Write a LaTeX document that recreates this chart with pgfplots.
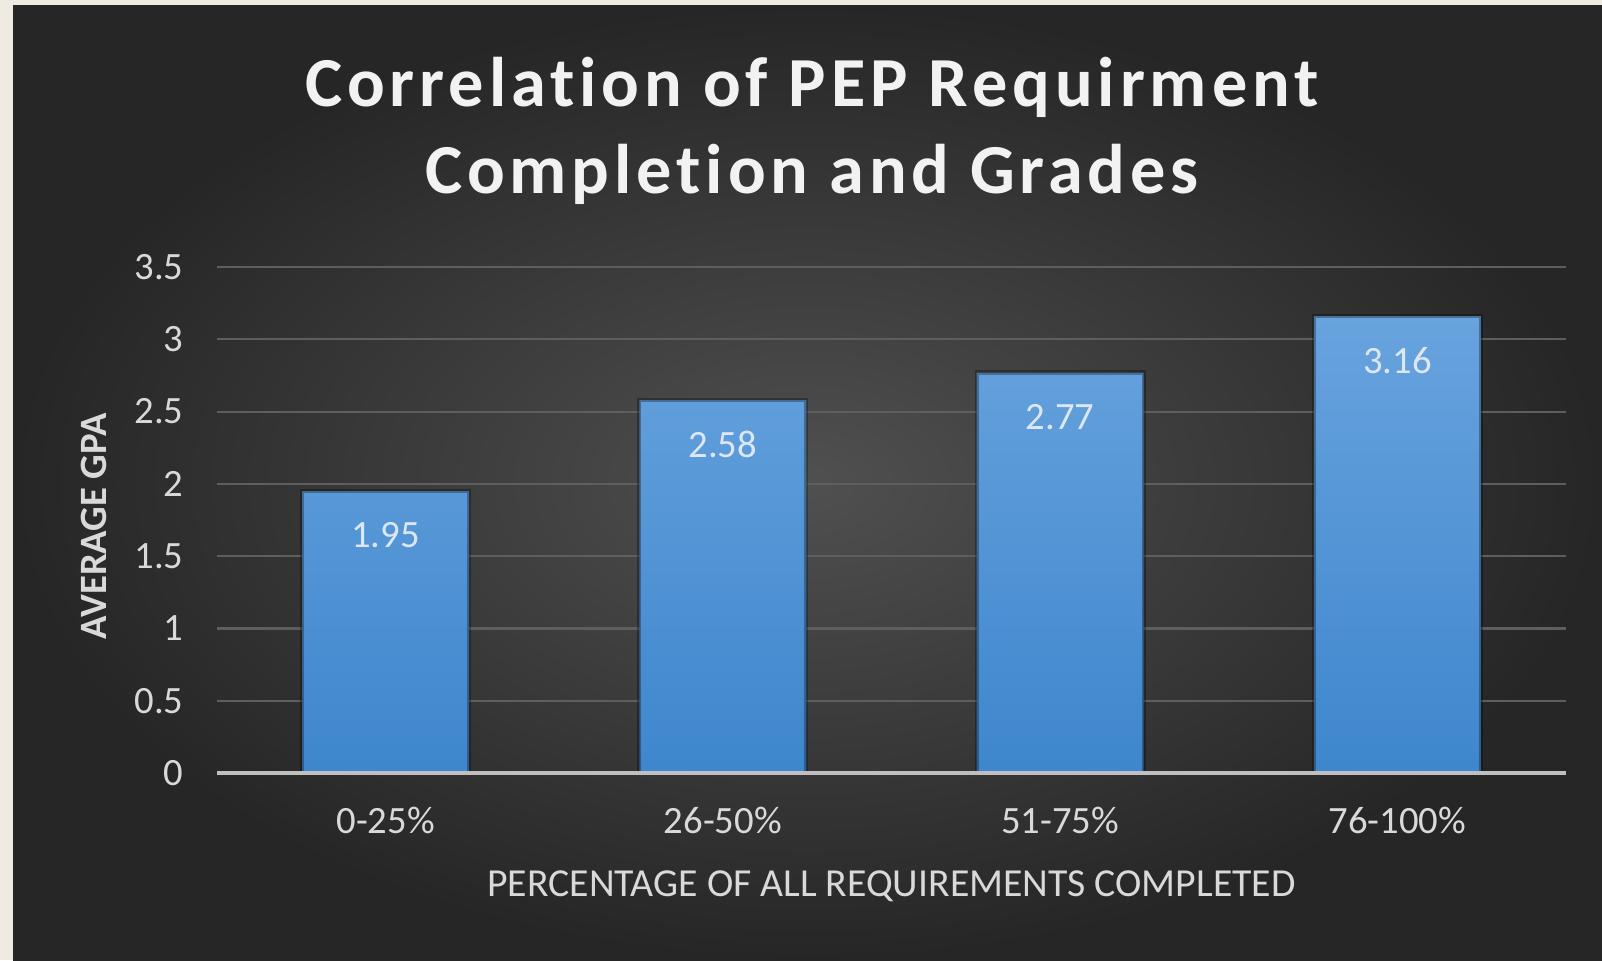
\documentclass[border=0pt]{standalone}
\usepackage{fontspec}
\setmainfont{Carlito}[Ligatures=NoCommon]
\newfontfamily\titlefont[LetterSpace=7,Ligatures=NoCommon]{Carlito}
\usepackage{pgfplots}
\pgfplotsset{compat=1.18}
\definecolor{cream}{HTML}{EFEBE3}
\definecolor{bgin}{HTML}{505050}
\definecolor{bgout}{HTML}{262626}
\definecolor{gridc}{HTML}{5E5E5E}
\definecolor{axisc}{HTML}{BFBFBF}
\definecolor{txt}{HTML}{D9D9D9}
\definecolor{titlec}{HTML}{F2F2F2}
\definecolor{bartop}{HTML}{68A3DE}
\definecolor{barbot}{HTML}{3E86CD}
\definecolor{lblc}{HTML}{DCE7F3}
\begin{document}
\begin{tikzpicture}
\fill[cream] (0,0) rectangle (160.2mm,96mm);
\shade[inner color=bgin, outer color=bgout] (1.3mm,0) rectangle (160.2mm,95.5mm);
\begin{axis}[
  at={(21.7mm,18.7mm)}, anchor=south west,
  scale only axis, width=134.9mm, height=50.6mm,
  xmin=-0.5, xmax=3.5, ymin=0, ymax=3.5,
  xtick={0,1,2,3},
  xticklabels={0-25\%,26-50\%,51-75\%,76-100\%},
  ytick={0,0.5,1,1.5,2,2.5,3,3.5},
  axis line style={draw=none},
  tick style={draw=none},
  ymajorgrids,
  grid style={gridc, line width=0.6pt},
  /pgf/number format/assume math mode=true,
  ticklabel style={font=\fontsize{11}{13}\selectfont, text=txt},
  yticklabel style={xshift=-2.1mm},
  xticklabel style={yshift=-2.2mm},
  xlabel={PERCENTAGE OF ALL REQUIREMENTS COMPLETED},
  xlabel style={at={(axis description cs:0.5,0)}, anchor=center, yshift=-11.3mm,
    font=\fontsize{11.3}{13}\selectfont, text=txt},
  ylabel={AVERAGE GPA},
  ylabel style={at={(axis description cs:-0.0912,0.488)}, anchor=center, rotate=0,
    font=\fontsize{11}{13}\selectfont\bfseries, text=txt},
  title={Correlation of PEP Requirment\\Completion and Grades},
  title style={at={(axis description cs:0.441,1.227)}, anchor=center, align=center,
    font=\titlefont\fontsize{20}{24.7}\selectfont\bfseries, text=titlec},
  clip=false,
]
\addplot[ybar, bar width=16.7mm, draw=black, draw opacity=0.3, line width=1.2pt,
  top color=bartop, bottom color=barbot]
  coordinates {(0,1.95) (1,2.58) (2,2.77) (3,3.16)};
\addplot[draw=none, mark=none, nodes near coords,
  nodes near coords style={anchor=north, yshift=-1.9mm, text=lblc,
    font=\fontsize{11}{13}\selectfont, /pgf/number format/fixed, /pgf/number format/precision=2,
    /pgf/number format/assume math mode=true}]
  coordinates {(0,1.95) (1,2.58) (2,2.77) (3,3.16)};
\draw[axisc, line width=1pt] (axis cs:-0.5,0) -- (axis cs:3.5,0);
\end{axis}
\end{tikzpicture}
\end{document}
